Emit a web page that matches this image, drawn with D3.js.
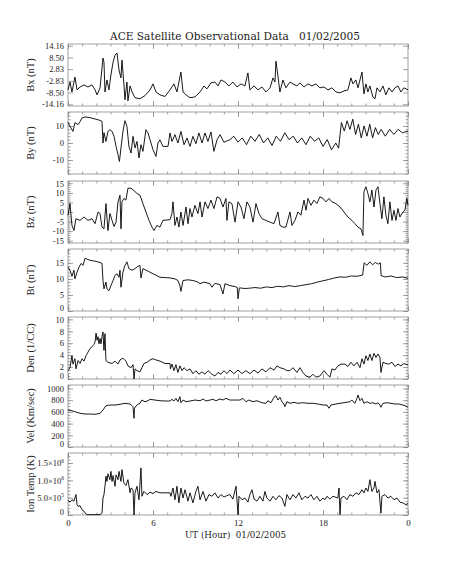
<!DOCTYPE html>
<html>
<head>
<meta charset="utf-8">
<style>
  body { margin: 0; background: #fff; }
</style>
</head>
<body>
<script src="https://d3js.org/d3.v7.min.js"></script>
<script>
// ---- data: [UT hour, value] ----
var bx = [[0,-7.2],[0.14,-3.4],[0.28,-8.2],[0.49,-1],[0.64,-7.2],[0.85,-5.8],[1.13,-4.8],[1.41,-5.8],[1.69,-4.8],[1.91,-7.2],
  [2.05,-9.6],[2.26,-6.2],[2.47,8.2],[2.54,6.2],[2.61,-8.2],[2.75,-2.4],[2.89,-7.2],[3.03,0],[3.18,6.2],[3.32,9.6],
  [3.46,10.6],[3.6,2.4],[3.74,-1.4],[3.81,7.2],[3.95,-4.8],[4.02,-12],[4.16,-3.4],[4.23,-12.5],[4.38,-5.3],[4.52,-8.2],
  [4.73,-11],[5.08,-11.5],[5.43,-10],[5.79,-7.2],[6.0,-4.3],[6.21,-8.2],[6.49,-9.6],[6.85,-10.4],[7.2,-7.2],[7.48,-4.3],
  [7.69,-8.2],[7.83,-3.4],[7.97,1.4],[8.12,-8.2],[8.33,-9.6],[8.61,-11],[8.96,-10.6],[9.32,-8.2],[9.6,-5.3],[9.81,-6.7],
  [10.09,-3.8],[10.37,-3.4],[10.59,-5.3],[10.8,-2.4],[11.08,-3.4],[11.36,-5.3],[11.64,-3.4],[11.93,-5.8],[12.21,-4.3],[12.49,-5.3],
  [12.7,1],[12.84,-7.2],[13.13,-5.3],[13.41,-7.2],[13.69,-5.8],[13.97,-8.2],[14.26,-6.2],[14.47,-1.4],[14.61,-3.4],[14.68,6.7],
  [14.82,-0.5],[14.96,-8.2],[15.17,-2.4],[15.38,-6.2],[15.67,-3.4],[15.88,-4.3],[16.16,-5.3],[16.37,-3.8],[16.66,-5.8],[16.94,-4.3],
  [17.22,-5.3],[17.5,-4.3],[17.78,-6.2],[18.07,-5.8],[18.35,-7.2],[18.63,-6.2],[18.91,-8.2],[19.2,-8.6],[19.48,-7.7],[19.76,-7.2],
  [19.97,-1.4],[20.11,-4.3],[20.32,-2.4],[20.47,-6.2],[20.61,-2.4],[20.75,1.4],[20.89,-9.1],[21.03,-4.3],[21.17,-8.2],[21.31,-5.3],
  [21.52,-10.6],[21.67,-11.5],[21.81,-6.2],[22.02,-8.2],[22.23,-5.3],[22.44,-9.6],[22.65,-6.2],[22.87,-8.2],[23.08,-6.2],[23.29,-5.3],
  [23.5,-8.2],[23.71,-6.2],[24,-7.2]];

var by = [[0,12.1],[0.14,9.8],[0.35,6.8],[0.49,11.9],[0.71,10.8],[0.85,12.5],[0.99,14.7],[1.2,15.3],[1.55,14.9],[1.91,14.1],
  [2.26,13.3],[2.4,12.7],[2.47,0],[2.54,6.1],[2.68,0.9],[2.82,6.8],[2.96,7.8],[3.11,6.8],[3.25,3.9],[3.39,-2],
  [3.53,-6.9],[3.63,-10.8],[3.74,-2.9],[3.88,6.8],[4.02,13.1],[4.16,9.8],[4.3,-2],[4.45,-5.9],[4.59,3.9],[4.73,-2.9],
  [4.87,0.9],[5.01,-8.8],[5.15,-1],[5.29,-4.9],[5.5,7.8],[5.65,5.9],[5.79,1.9],[6.0,-3.9],[6.21,-7.9],[6.35,0],
  [6.49,1.9],[6.7,-2],[7.06,-2],[7.2,5.9],[7.34,0.9],[7.55,4.9],[7.76,0],[7.97,6.8],[8.19,-1],[8.4,2.9],
  [8.61,-2],[8.82,3.9],[9.03,-0.4],[9.24,5.9],[9.46,0],[9.67,5.9],[9.88,0.9],[10.09,6.5],[10.3,-4.9],[10.52,1.9],
  [10.73,4.9],[11.01,0.4],[11.29,1.5],[11.43,1.9],[11.7,4],[12.0,0.5],[12.3,3],[12.6,-1],[12.9,4],[13.2,1],
  [13.5,5],[13.8,0],[14.1,3],[14.4,-1.5],[14.7,4],[15.0,1],[15.3,6],[15.6,2],[15.9,4],[16.2,0],
  [16.5,3],[16.8,-1],[17.1,4],[17.4,1],[17.7,3],[18.0,-2],[18.3,2],[18.6,-4],[18.9,0],[19.1,-3],
  [19.3,12],[19.5,7],[19.7,13],[19.9,8],[20.1,14],[20.3,5],[20.5,11],[20.7,3],[20.9,10],[21.1,4],
  [21.3,11],[21.5,3],[21.7,9],[21.9,5],[22.1,8],[22.4,4],[22.7,8],[23.0,5],[23.3,8],[23.6,6],[24,7]];

var bz = [[0,-1.7],[0.14,4.4],[0.28,-7],[0.42,-9.7],[0.56,-3.5],[0.85,-4.4],[1.13,-2.6],[1.41,-4.4],[1.69,-3.5],[1.91,-6.1],
  [2.12,0],[2.26,-0.8],[2.4,-7.9],[2.54,-8.8],[2.68,4.4],[2.82,-9.7],[2.96,-0.8],[3.11,-4.4],[3.25,-7.6],[3.39,-5.3],
  [3.53,5.3],[3.67,8.8],[3.74,-8.8],[3.81,5.3],[3.95,7.1],[4.09,6.2],[4.23,12.4],[4.45,12.4],[4.66,11.1],[4.87,9.7],
  [5.08,8.8],[5.29,4.4],[5.5,0],[5.72,-4.4],[5.93,-7.9],[6.07,-9.7],[6.28,-7],[6.49,-7.9],[6.7,-4.4],[7.2,-4],
  [7.34,-0.8],[7.41,5.3],[7.55,-7],[7.69,-2.6],[7.83,-7.9],[7.97,0],[8.12,-7],[8.33,2.6],[8.47,-6.1],[8.61,1.8],
  [8.75,-2.6],[8.96,3.5],[9.17,-0.8],[9.32,5.3],[9.46,-2.6],[9.67,5.3],[9.88,1.8],[10.09,6.2],[10.3,1.8],[10.52,7.9],
  [10.73,7.1],[10.94,2.6],[11.15,7.1],[11.22,-4.4],[11.36,5.3],[11.57,4.4],[11.79,-5.3],[12.0,5.3],[12.21,2.6],[12.42,-3.5],
  [12.63,5.3],[12.84,2.6],[13.06,-5.3],[13.27,4.4],[13.48,-0.8],[13.69,-3.5],[13.97,-4.4],[14.26,-5.3],[14.54,-6.1],[14.82,0],
  [14.96,-7],[15.17,-7.9],[15.38,-7.9],[15.67,0],[15.81,-7],[16.02,-4.4],[16.23,0],[16.44,-1.7],[16.66,6.2],[16.8,0.9],
  [16.94,7.1],[17.15,3.5],[17.36,6.2],[17.57,4.4],[17.78,7.9],[18.0,7.1],[18.21,5.3],[18.42,7.1],[18.63,5.3],[18.91,4.4],
  [19.2,2.6],[19.48,0],[19.76,-2.6],[20.04,-4.4],[20.25,-6.1],[20.47,-7.9],[20.68,-8.8],[20.82,-12.3],[20.89,10.6],[21.03,13.2],
  [21.17,9.7],[21.31,5.3],[21.45,11.5],[21.6,2.6],[21.74,11.5],[21.88,13.2],[22.02,4.4],[22.16,-3.5],[22.3,7.9],[22.44,-1.7],
  [22.58,-6.1],[22.72,5.3],[22.87,-4.4],[23.01,0.9],[23.15,-4.4],[23.29,1.8],[23.43,-2.6],[23.64,0],[23.78,0.9],[23.92,7.1],[24,3.5]];

var bt = [[0,13.7],[0.14,12.7],[0.28,10.8],[0.42,12.7],[0.49,10],[0.64,12.1],[0.78,13.7],[0.92,14.8],[1.06,14.2],[1.2,16.4],
  [1.55,15.8],[1.91,15.5],[2.26,15.1],[2.4,14.8],[2.47,9.5],[2.54,6.9],[2.68,9],[2.75,6.9],[2.89,6.3],[3.03,7.9],
  [3.18,9.5],[3.32,11.1],[3.46,11.6],[3.6,10.5],[3.67,12.7],[3.74,7.4],[3.88,12.1],[4.02,14.2],[4.16,15.3],[4.3,13.2],
  [4.52,12.7],[4.73,13.2],[4.94,13.9],[5.08,14.2],[5.15,10.3],[5.29,13.2],[5.65,12.4],[6.0,11.6],[6.49,10.5],[6.85,10.4],
  [7.2,10.3],[7.55,10],[7.76,9.5],[7.9,7.9],[7.97,6.1],[8.12,9.5],[8.47,9.7],[8.82,9.5],[9.17,9],[9.32,8.5],
  [9.6,9],[10.02,8.5],[10.16,7.4],[10.37,8.6],[10.73,8.2],[10.94,5.3],[11.08,8.5],[11.43,7.9],[11.8,7.6],[11.95,7.3],
  [12.0,3.8],[12.1,7.2],[12.5,7],[12.8,7.1],[13.2,7.3],[13.6,7.1],[14.0,7.5],[14.4,7.3],[14.8,7.7],[15.2,7.5],[15.6,7.9],
  [16.0,7.6],[16.4,7.9],[16.8,8.2],[17.2,8.5],[17.6,9],[18.0,9.4],[18.4,9.8],[18.8,10.3],[19.2,10.6],[19.6,10.5],
  [20.0,10.9],[20.4,10.8],[20.8,11.2],[20.9,15],[21.1,14.2],[21.3,15.3],[21.5,14.4],[21.7,15.1],[21.9,14.6],[22.05,15],
  [22.1,11],[22.4,10.6],[22.8,10.9],[23.2,10.4],[23.6,10.6],[24,10.2]];

var den = [[0,1.4],[0.14,1.9],[0.28,3.9],[0.35,2.5],[0.49,3.4],[0.56,1.7],[0.71,3.1],[0.85,2.6],[0.99,3.4],[1.13,3],
  [1.27,3.9],[1.41,4.5],[1.55,5.1],[1.69,5.4],[1.83,5.8],[1.91,6.2],[1.98,7.7],[2.05,6.5],[2.12,7.1],[2.19,5.9],
  [2.26,6.8],[2.33,5.9],[2.4,7.1],[2.47,7.9],[2.54,4.8],[2.61,7.6],[2.68,3.1],[2.82,2.8],[3.11,2.6],[3.32,3],
  [3.53,2.5],[3.67,3.2],[3.88,3.5],[4.09,3],[4.23,2.2],[4.45,1.9],[4.59,2.4],[4.66,0],[4.73,1.7],[4.87,1.4],
  [5.08,1.2],[5.22,1.9],[5.36,2.6],[5.58,2.8],[5.79,3.2],[6.0,3.4],[6.21,3.2],[6.49,3],[6.85,2.6],[7.2,2.6],
  [7.23,1.7],[7.34,2.5],[7.48,1.4],[7.62,2.4],[7.76,1.1],[7.9,2.2],[8.05,1.4],[8.19,1.9],[8.4,1.4],[8.61,1.7],
  [8.82,0.9],[9.03,1.4],[9.24,0.8],[9.46,1.2],[9.67,0.8],[9.88,1.4],[10.16,0.8],[10.37,0.5],[10.59,1.1],[10.8,0.8],
  [11.01,1.4],[11.22,0.9],[11.43,1.5],[11.71,0.9],[12.0,1.5],[12.28,0.9],[12.56,1.4],[12.84,0.9],[13.13,1.5],[13.41,1],
  [13.69,1.7],[13.97,1.2],[14.26,1.9],[14.54,1.5],[14.75,2.2],[14.96,1.9],[15.24,1.7],[15.45,1.4],[15.67,1.4],[15.88,1.9],
  [16.16,1.1],[16.37,1.9],[16.58,1.1],[16.8,0.5],[17.08,0.3],[17.29,0.8],[17.5,0.3],[17.78,0.5],[18.07,1.4],[18.28,0.8],
  [18.49,0.3],[18.63,1.7],[18.84,1.5],[19.05,2.2],[19.27,2.5],[19.55,2.5],[19.76,2.1],[19.97,2.8],[20.18,2.2],[20.4,2.8],
  [20.61,1.9],[20.75,3.4],[20.89,2.5],[21.03,3.9],[21.17,3.1],[21.31,4.2],[21.45,3.1],[21.6,4.3],[21.74,3.6],[21.88,4.2],
  [22.02,3.6],[22.09,1.1],[22.23,2.8],[22.44,2.6],[22.65,2.5],[22.87,2.8],[23.08,2.1],[23.29,2.5],[23.5,2.2],[23.71,2.6],
  [23.92,2.4],[24,2.4]];

var vel = [[0,632],[0.28,620],[0.49,603],[0.85,576],[1.2,564],[1.55,564],[1.91,559],[2.26,576],[2.47,632],[2.68,706],
  [2.96,718],[3.32,718],[3.67,730],[4.02,747],[4.38,735],[4.52,706],[4.59,689],[4.66,491],[4.69,662],[4.8,701],
  [4.94,730],[5.08,747],[5.22,803],[5.43,774],[5.65,791],[5.79,815],[6.14,803],[6.49,791],[6.85,786],[7.2,786],
  [7.34,815],[7.48,786],[7.62,832],[7.76,774],[7.9,860],[7.97,757],[8.12,803],[8.33,774],[8.61,786],[8.96,803],
  [9.32,791],[9.53,821],[9.74,786],[10.02,803],[10.23,815],[10.44,791],[10.73,821],[10.94,803],[11.15,832],[11.43,803],
  [11.86,803],[12.14,803],[12.35,832],[12.56,774],[12.77,803],[13.06,774],[13.34,791],[13.69,757],[13.97,747],[14.11,791],
  [14.33,757],[14.54,850],[14.68,877],[14.82,803],[14.96,850],[15.1,774],[15.24,735],[15.31,689],[15.45,774],[15.67,747],
  [15.95,764],[16.23,747],[16.58,757],[16.94,747],[17.29,747],[17.64,735],[18.0,718],[18.28,718],[18.42,662],[18.56,718],
  [18.91,735],[19.2,747],[19.48,757],[19.9,774],[20.04,803],[20.25,747],[20.4,832],[20.47,889],[20.61,791],[20.75,832],
  [20.89,747],[21.1,774],[21.31,747],[21.52,757],[21.74,735],[21.88,757],[22.02,718],[22.09,679],[22.23,747],[22.51,757],
  [22.79,747],[23.08,735],[23.36,735],[23.64,718],[23.85,701],[24,679]];

var temp = [[0,4.2e5],[0.14,3.7e5],[0.28,4.4e5],[0.42,4.0e5],[0.56,5.9e5],[0.64,3.0e5],[0.71,2.5e5],[0.85,2.7e5],[0.99,1.5e5],[1.13,1.1e5],
  [1.2,0.6e5],[1.34,0.1e5],[1.91,0.1e5],[2.26,0.1e5],[2.4,0.6e5],[2.47,4.9e5],[2.54,5.9e5],[2.61,8.3e5],[2.68,11.2e5],[2.75,9.7e5],
  [2.82,11.9e5],[2.96,10.2e5],[3.03,12.6e5],[3.11,9.7e5],[3.18,11.4e5],[3.32,8.3e5],[3.39,11.6e5],[3.53,10.2e5],[3.6,12.6e5],[3.74,9.7e5],
  [3.81,13.1e5],[3.95,9.2e5],[4.09,8.5e5],[4.23,10.2e5],[4.38,6.4e5],[4.45,7.8e5],[4.59,7.3e5],[4.66,0],[4.73,6.4e5],[4.87,8.3e5],
  [5.01,4.4e5],[5.15,13.6e5],[5.22,5.4e5],[5.36,6.8e5],[5.58,5.9e5],[5.79,6.6e5],[6.0,6.2e5],[6.21,6.8e5],[6.49,6.4e5],[7.2,6.4e5],
  [7.27,5.4e5],[7.41,7.8e5],[7.55,4.4e5],[7.69,8.3e5],[7.83,3.5e5],[7.97,7.8e5],[8.12,4.9e5],[8.26,7.3e5],[8.47,4.0e5],[8.61,6.4e5],
  [8.82,3.5e5],[9.03,6.8e5],[9.17,8.3e5],[9.32,4.4e5],[9.53,6.8e5],[9.74,4.0e5],[9.95,5.9e5],[10.16,5.4e5],[10.37,6.4e5],[10.59,4.9e5],
  [10.8,5.9e5],[11.01,5.2e5],[11.22,5.6e5],[11.43,5.9e5],[11.64,4.6e5],[11.86,8.3e5],[12.0,0.1e5],[12.07,5.4e5],[12.28,4.4e5],[12.49,4.9e5],
  [12.7,3.7e5],[12.84,5.9e5],[12.99,7.3e5],[13.13,4.6e5],[13.34,4.0e5],[13.55,5.4e5],[13.76,4.0e5],[13.9,6.8e5],[14.04,4.9e5],[14.26,4.0e5],
  [14.47,5.4e5],[14.68,4.4e5],[14.89,5.6e5],[15.1,4.9e5],[15.31,2.5e5],[15.45,5.9e5],[15.67,4.4e5],[15.88,5.9e5],[16.09,4.9e5],[16.3,6.4e5],
  [16.51,4.4e5],[16.73,5.4e5],[16.94,4.9e5],[17.15,5.9e5],[17.36,4.4e5],[17.57,5.4e5],[17.78,4.0e5],[18.0,4.9e5],[18.14,4.4e5],[18.28,5.4e5],
  [18.49,4.6e5],[18.7,5.4e5],[19.05,4.9e5],[19.13,7.8e5],[19.2,0.1e5],[19.27,4.9e5],[19.48,5.4e5],[19.69,4.4e5],[19.9,5.9e5],[20.11,5.4e5],
  [20.32,6.4e5],[20.54,5.9e5],[20.75,7.3e5],[20.89,6.4e5],[21.03,7.8e5],[21.17,6.8e5],[21.31,10.2e5],[21.45,6.8e5],[21.6,7.8e5],[21.67,9.7e5],
  [21.81,6.4e5],[21.95,7.3e5],[22.09,0.6e5],[22.16,5.4e5],[22.37,5.9e5],[22.58,4.9e5],[22.79,5.4e5],[23.01,4.4e5],[23.22,4.9e5],[23.43,3.7e5],
  [23.64,3.5e5],[23.85,3.0e5],[24,3.3e5]];

// tick labels
var hourTicks = [0, 6, 12, 18, 24];
var bxTicks = [-14.16, -8.50, -2.83, 2.83, 8.50, 14.16];
var byTicks = [-10, 0, 10];
var bzTicks = [-15, -10, -5, 0, 5, 10, 15];
var btTicks = [0, 5, 10, 15];
var denTicks = [0, 2, 4, 6, 8, 10];
var velTicks = [0, 200, 400, 600, 800, 1000];
var tempTicks = [0, 5e5, 1e6, 1.5e6];

var axisColor = "#8a8a8a", inkColor = "#222";
var panelTops = [44, 112, 181, 249, 317, 385, 453];
var panelH = 62;

var svg = d3.select("body").append("svg")
    .attr("width", 453)
    .attr("height", 566);
svg.append("rect").attr("width", 453).attr("height", 566).attr("fill", "#fff");

var x = d3.scaleLinear().domain([0, 24]).range([68, 408]);

function fix2(d) { return d.toFixed(2); }
function plain(d) { return String(d); }

var panels = [
    { data: bx, label: "Bx (nT)", domain: [-15, 15], major: bxTicks, minor: [], fmt: fix2 },
    { data: by, label: "By (nT)", domain: [-18.2, 18.2], major: byTicks, minor: d3.range(-18, 19, 2), fmt: plain },
    { data: bz, label: "Bz (nT)", domain: [-16.2, 16.2], major: bzTicks, minor: d3.range(-16, 17, 1), fmt: plain },
    { data: bt, label: "Bt (nT)", domain: [0, 19.3], major: btTicks, minor: d3.range(0, 20, 1), fmt: plain },
    { data: den, label: "Den (1/CC)", domain: [0, 10.4], major: denTicks, minor: d3.range(0, 10.5, 0.5), fmt: plain },
    { data: vel, label: "Vel (Km/sec)", domain: [0, 1060], major: velTicks, minor: d3.range(0, 1060, 50), fmt: plain },
    { data: temp, label: "Ion Temp (K)", domain: [0, 1.79e6], major: tempTicks, minor: d3.range(0, 1.8e6, 1e5), fmt: null }
];

function styleAxis(g, size) {
    g.select(".domain").remove();
    g.selectAll("line").attr("stroke", axisColor).attr("stroke-width", 0.8);
    g.selectAll("text")
        .attr("fill", inkColor)
        .attr("font-family", "Liberation Serif, serif")
        .attr("font-size", size || 8.5);
}

panels.forEach(function (p, i) {
    var top = panelTops[i];
    var y = d3.scaleLinear().domain(p.domain).range([top + panelH, top]);
    var g = svg.append("g");

    // left axis: major + minor ticks, pointing inward
    var la = g.append("g").attr("transform", "translate(68,0)")
        .call(d3.axisLeft(y).tickValues(p.major).tickSize(-5).tickPadding(4)
            .tickFormat(p.fmt ? p.fmt : function (d) { return d; }));
    styleAxis(la, 8.5);
    // labels sitting on the bottom edge are lifted a little, as in the original
    la.selectAll("text").attr("dy", function (d) {
        return Math.abs(y(d) - (top + panelH)) < 1 ? "-0.05em" : "0.32em";
    });
    if (!p.fmt) {
        // ion temperature labels: m.m×10^e
        la.selectAll("text").each(function (d) {
            var t = d3.select(this).text("");
            if (d === 0) { t.text("0"); return; }
            var e = Math.floor(Math.log10(d));
            var m = (d / Math.pow(10, e)).toFixed(1);
            t.append("tspan").text(m + "\u00d710");
            t.append("tspan").attr("dy", -3.5).attr("font-size", 5.5).text(e);
        });
    }
    g.append("g").attr("transform", "translate(68,0)")
        .call(d3.axisLeft(y).tickValues(p.minor).tickSize(-2.5).tickFormat(""))
        .call(styleAxis);

    // right axis
    g.append("g").attr("transform", "translate(408,0)")
        .call(d3.axisRight(y).tickValues(p.major).tickSize(-5).tickFormat(""))
        .call(styleAxis);
    g.append("g").attr("transform", "translate(408,0)")
        .call(d3.axisRight(y).tickValues(p.minor).tickSize(-2.5).tickFormat(""))
        .call(styleAxis);

    // top and bottom hour ticks
    var last = (i === panels.length - 1);
    var ba = g.append("g").attr("transform", "translate(0," + (top + panelH) + ")")
        .call(d3.axisBottom(x).tickValues(hourTicks).tickSize(-5).tickPadding(5)
            .tickFormat(last ? function (d) { return d % 24; } : ""));
    styleAxis(ba, 9);
    g.append("g").attr("transform", "translate(0," + (top + panelH) + ")")
        .call(d3.axisBottom(x).tickValues(d3.range(0, 25)).tickSize(-2.5).tickFormat(""))
        .call(styleAxis);
    g.append("g").attr("transform", "translate(0," + top + ")")
        .call(d3.axisTop(x).tickValues(hourTicks).tickSize(-5).tickFormat(""))
        .call(styleAxis);
    g.append("g").attr("transform", "translate(0," + top + ")")
        .call(d3.axisTop(x).tickValues(d3.range(0, 25)).tickSize(-2.5).tickFormat(""))
        .call(styleAxis);

    // frame
    g.append("rect")
        .attr("x", 68).attr("y", top)
        .attr("width", 340).attr("height", panelH)
        .attr("fill", "none")
        .attr("stroke", axisColor)
        .attr("stroke-width", 0.8);

    // data line
    var line = d3.line()
        .x(function (d) { return x(d[0]); })
        .y(function (d) { return y(d[1]); });
    g.append("path")
        .datum(p.data)
        .attr("d", line)
        .attr("fill", "none")
        .attr("stroke", "#000")
        .attr("stroke-width", 0.9)
        .attr("stroke-linejoin", "round");

    // y label
    g.append("text")
        .attr("transform", "translate(34," + (top + panelH / 2) + ") rotate(-90)")
        .attr("text-anchor", "middle")
        .attr("font-family", "Liberation Serif, serif")
        .attr("font-size", 10.5)
        .attr("fill", inkColor)
        .text(p.label);
});

// title and x label
svg.append("text")
    .attr("x", 110).attr("y", 40)
    .attr("font-family", "DejaVu Serif, serif")
    .attr("font-size", 10.5)
    .attr("fill", inkColor)
    .attr("textLength", 250)
    .attr("lengthAdjust", "spacingAndGlyphs")
    .style("white-space", "pre")
    .text("ACE Satellite Observational Data   01/02/2005");

svg.append("text")
    .attr("x", 185).attr("y", 538)
    .attr("font-family", "DejaVu Serif, serif")
    .attr("font-size", 8.5)
    .attr("fill", inkColor)
    .attr("textLength", 101)
    .attr("lengthAdjust", "spacingAndGlyphs")
    .style("white-space", "pre")
    .text("UT (Hour)  01/02/2005");
</script>
</body>
</html>
